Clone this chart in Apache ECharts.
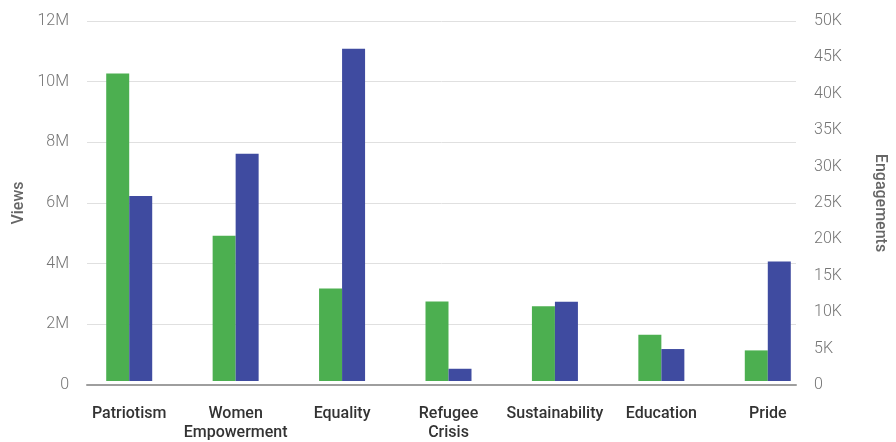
<!DOCTYPE html>
<html>
<head>
<meta charset="utf-8">
<script src="https://cdn.jsdelivr.net/npm/echarts@6/dist/echarts.min.js"></script>
<style>
  html, body { margin: 0; padding: 0; background: #fff; }
  #chart { width: 896px; height: 442px; }
</style>
</head>
<body>
<div id="chart"></div>
<script>
// campaign topics
var categories = ['Patriotism', 'Women\nEmpowerment', 'Equality', 'Refugee\nCrisis', 'Sustainability', 'Education', 'Pride'];
var views = [10250000, 4840000, 3080000, 2650000, 2490000, 1540000, 1020000];
var engagements = [25700, 31550, 46150, 1700, 11000, 4440, 16600];

var font = 'Roboto, "Noto Sans", sans-serif';

var chart = echarts.init(document.getElementById('chart'));
chart.setOption({
  animation: false,
  // grid 0 holds the bars, grid 1 draws the axis frame, labels and grid lines
  grid: [
    { left: 76, right: 75, top: 21, bottom: 57 },
    { left: 87, right: 86, top: 21, bottom: 57 }
  ],
  xAxis: [
    {
      type: 'category',
      gridIndex: 0,
      data: categories,
      axisLine: { show: false },
      axisTick: { show: false },
      axisLabel: {
        interval: 0,
        margin: 23,
        color: '#333',
        fontFamily: font,
        fontSize: 16,
        fontWeight: 500,
        lineHeight: 19
      }
    },
    {
      type: 'value',
      gridIndex: 1,
      min: 0,
      max: 1,
      axisLine: { show: true, onZero: false, lineStyle: { color: '#9e9e9e', width: 2 } },
      axisTick: { show: false },
      axisLabel: { show: false },
      splitLine: { show: false }
    }
  ],
  yAxis: [
    { type: 'value', gridIndex: 0, min: 0, max: 12000000, show: false },
    { type: 'value', gridIndex: 0, min: 0, max: 50000, show: false },
    {
      type: 'value',
      gridIndex: 1,
      min: 0,
      max: 12000000,
      interval: 2000000,
      name: 'Views',
      nameLocation: 'middle',
      nameRotate: 90,
      nameGap: 60,
      nameTextStyle: { color: '#666', fontFamily: font, fontSize: 16, fontWeight: 500 },
      axisLine: { show: false },
      axisTick: { show: false },
      axisLabel: {
        margin: 18,
        color: '#757575',
        fontFamily: font,
        fontSize: 16,
        fontWeight: 300,
        formatter: function (v) { return v === 0 ? '0' : (v / 1000000) + 'M'; }
      },
      splitLine: { lineStyle: { color: '#e0e0e0', width: 1 } }
    },
    {
      type: 'value',
      gridIndex: 1,
      position: 'right',
      min: 0,
      max: 50000,
      interval: 5000,
      name: 'Engagements',
      nameLocation: 'middle',
      nameRotate: -90,
      nameGap: 76,
      nameTextStyle: { color: '#666', fontFamily: font, fontSize: 16, fontWeight: 500 },
      axisLine: { show: false },
      axisTick: { show: false },
      axisLabel: {
        margin: 18,
        color: '#757575',
        fontFamily: font,
        fontSize: 16,
        fontWeight: 300,
        formatter: function (v) { return v === 0 ? '0' : (v / 1000) + 'K'; }
      },
      splitLine: { show: false }
    }
  ],
  series: [
    {
      name: 'Views',
      type: 'bar',
      xAxisIndex: 0,
      yAxisIndex: 0,
      data: views,
      barWidth: 23,
      barGap: '0%',
      itemStyle: { color: '#4caf50' }
    },
    {
      name: 'Engagements',
      type: 'bar',
      xAxisIndex: 0,
      yAxisIndex: 1,
      data: engagements,
      barWidth: 23,
      barGap: '0%',
      itemStyle: { color: '#3f4ba0' }
    }
  ]
});
</script>
</body>
</html>
